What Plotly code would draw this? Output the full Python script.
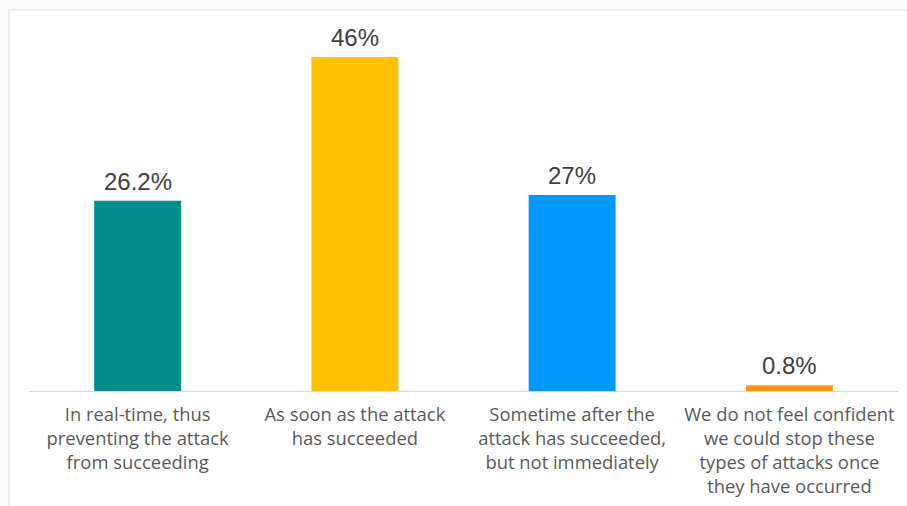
import plotly.graph_objects as go

# Survey responses: when the organisation could stop an attack
categories = [
    "In real-time, thus<br>preventing the attack<br>from succeeding",
    "As soon as the attack<br>has succeeded",
    "Sometime after the<br>attack has succeeded,<br>but not immediately",
    "We do not feel confident<br>we could stop these<br>types of attacks once<br>they have occurred",
]
shares = [26.2, 46, 27, 0.8]
bar_colors = ["#008E8A", "#FFC000", "#0099FF", "#FF9410"]
value_labels = [f"{v:g}%" for v in shares]

W, H = 907, 506
L, R, T, B = 29, 9, 28, 115
pw, ph = W - L - R, H - T - B

def px_x(px):
    return (px - L) / pw

def px_y(py):
    return (H - B - py) / ph

fig = go.Figure(
    go.Bar(
        x=categories,
        y=shares,
        marker=dict(color=bar_colors, line=dict(width=0)),
        hoverinfo="skip",
    )
)

# value labels above each bar
for cat, val, lab in zip(categories, shares, value_labels):
    fig.add_annotation(
        x=cat, y=val, text=lab, showarrow=False,
        yanchor="bottom", yshift=4,
        font=dict(family="Liberation Sans, Arial, sans-serif", size=24, color="#404040"),
    )

# light frame around the chart card
fig.add_shape(
    type="rect", xref="paper", yref="paper", layer="below",
    x0=px_x(9), x1=px_x(W + 5), y0=px_y(H + 5), y1=px_y(10),
    line=dict(color="#e2e2e2", width=1.2), fillcolor="white",
)

fig.update_layout(
    width=W, height=H,
    margin=dict(l=L, r=R, t=T, b=B, autoexpand=False),
    paper_bgcolor="#fbfbfb",
    plot_bgcolor="rgba(0,0,0,0)",
    bargap=0.6,
    showlegend=False,
    xaxis=dict(
        showline=True, linecolor="#d9d9d9", linewidth=1,
        tickfont=dict(family="Open Sans, sans-serif", size=18.4, color="#595959"),
        ticks="", ticklabelstandoff=7, automargin=False,
        fixedrange=True,
    ),
    yaxis=dict(range=[0, 50], visible=False, fixedrange=True),
)

fig.write_html("out.html")
